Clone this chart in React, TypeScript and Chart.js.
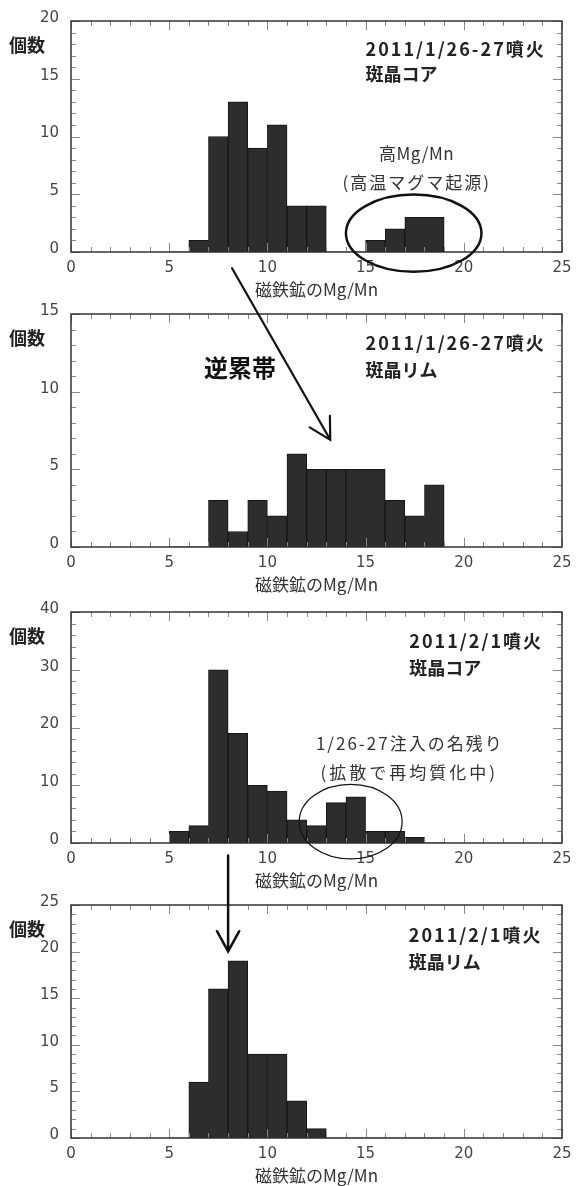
import React, { useEffect, useRef } from 'react';
import { Chart, registerables } from 'chart.js';

Chart.register(...registerables);

// ---- data ----
const binStarts = [5, 6, 7, 8, 9, 10, 11, 12, 13, 14, 15, 16, 17, 18];
const coreCounts0126 = [0, 1, 10, 13, 9, 11, 4, 4, 0, 0, 1, 2, 3, 3];
const rimCounts0126 = [0, 0, 3, 1, 3, 2, 6, 5, 5, 5, 5, 3, 2, 4];
const coreCounts0201 = [2, 3, 30, 19, 10, 9, 4, 3, 7, 8, 2, 2, 1, 0];
const rimCounts0201 = [0, 6, 16, 19, 9, 9, 4, 1, 0, 0, 0, 0, 0, 0];
const xTickValues = [0, 5, 10, 15, 20, 25];
const xTitle = '磁鉄鉱のMg/Mn';
const yTitle = '個数';

const JP = "'Noto Sans CJK JP', 'Noto Sans', sans-serif";
const NUM = "'DejaVu Sans', sans-serif";

type Txt = { text: string; x: number; y: number; align: CanvasTextAlign; font: string; ls: number; color: string };
type Ell = { cx: number; cy: number; rx: number; ry: number; width: number };
type Arr = { x0: number; y0: number; x1: number; y1: number; head: number; width: number };

const headFont = `bold 18px ${JP}`;
const noteFont = `17px ${JP}`;

const panels = [
  {
    counts: coreCounts0126, top: 19, plotH: 233, padTop: 19, yMax: 20, yStep: 5, yMinor: 1,
    texts: [
      { text: '2011/1/26-27噴火', x: 15.0, y: 17.53, align: 'left', font: headFont, ls: 2, color: '#222' },
      { text: '斑晶コア', x: 15.0, y: 15.38, align: 'left', font: headFont, ls: 0, color: '#222' },
      { text: '高Mg/Mn', x: 17.6, y: 8.56, align: 'center', font: noteFont, ls: 0.5, color: '#333' },
      { text: '(高温マグマ起源)', x: 17.6, y: 5.98, align: 'center', font: noteFont, ls: 2, color: '#333' },
    ] as Txt[],
    ellipses: [{ cx: 17.45, cy: 1.63, rx: 3.45, ry: 3.35, width: 2.5 }] as Ell[],
    arrows: [] as Arr[],
  },
  {
    counts: rimCounts0126, top: 314, plotH: 233, padTop: 64, yMax: 15, yStep: 5, yMinor: 1,
    texts: [
      { text: '2011/1/26-27噴火', x: 15.0, y: 13.14, align: 'left', font: headFont, ls: 2, color: '#222' },
      { text: '斑晶リム', x: 15.0, y: 11.4, align: 'left', font: headFont, ls: 0, color: '#222' },
      { text: '逆累帯', x: 8.6, y: 11.53, align: 'center', font: `bold 24px ${JP}`, ls: 0, color: '#111' },
    ] as Txt[],
    ellipses: [] as Ell[],
    arrows: [{ x0: 8.2, y0: 17.95, x1: 13.2, y1: 6.9, head: 24, width: 2.2 }] as Arr[],
  },
  {
    counts: coreCounts0201, top: 610, plotH: 233, padTop: 19, yMax: 40, yStep: 10, yMinor: 2,
    texts: [
      { text: '2011/2/1噴火', x: 17.23, y: 35.0, align: 'left', font: headFont, ls: 2, color: '#222' },
      { text: '斑晶コア', x: 17.23, y: 30.2, align: 'left', font: headFont, ls: 0, color: '#222' },
      { text: '1/26-27注入の名残り', x: 17.25, y: 17.2, align: 'center', font: noteFont, ls: 2, color: '#333' },
      { text: '(拡散で再均質化中)', x: 17.23, y: 12.2, align: 'center', font: noteFont, ls: 3, color: '#333' },
    ] as Txt[],
    ellipses: [{ cx: 14.24, cy: 3.7, rx: 2.62, ry: 6.46, width: 1.2 }] as Ell[],
    arrows: [] as Arr[],
  },
  {
    counts: rimCounts0201, top: 905, plotH: 233, padTop: 60, yMax: 25, yStep: 5, yMinor: 1,
    texts: [
      { text: '2011/2/1噴火', x: 17.2, y: 21.8, align: 'left', font: headFont, ls: 2, color: '#222' },
      { text: '斑晶リム', x: 17.2, y: 18.9, align: 'left', font: headFont, ls: 0, color: '#222' },
    ] as Txt[],
    ellipses: [] as Ell[],
    arrows: [{ x0: 8.0, y0: 30.3, x1: 8.0, y1: 20.03, head: 23, width: 2.5 }] as Arr[],
  },
];

const X_AXIS_H = 48;

function makeDecor(p: typeof panels[number]) {
  return {
    id: 'decor',
    afterDraw(chart: any) {
      const { ctx, chartArea: a } = chart;
      const xs = chart.scales.x;
      const ys = chart.scales.y;
      ctx.save();
      // inward ticks
      ctx.strokeStyle = '#888';
      ctx.lineWidth = 1;
      ctx.beginPath();
      for (let v = 0; v <= 25; v += 1) {
        const px = Math.round(xs.getPixelForValue(v)) + 0.5;
        const len = v % 5 === 0 ? 9 : 5;
        ctx.moveTo(px, a.bottom); ctx.lineTo(px, a.bottom - len);
        ctx.moveTo(px, a.top); ctx.lineTo(px, a.top + len);
      }
      for (let v = 0; v <= p.yMax; v += p.yMinor) {
        const py = Math.round(ys.getPixelForValue(v)) + 0.5;
        const len = v % 5 === 0 ? 9 : 5;
        ctx.moveTo(a.left, py); ctx.lineTo(a.left + len, py);
        ctx.moveTo(a.right, py); ctx.lineTo(a.right - len, py);
      }
      ctx.stroke();
      // frame
      ctx.strokeStyle = '#333';
      ctx.lineWidth = 1.5;
      ctx.strokeRect(a.left, a.top, a.right - a.left, a.bottom - a.top);
      // y label
      ctx.fillStyle = '#222';
      ctx.font = `bold 18px ${JP}`;
      ctx.textAlign = 'center';
      ctx.textBaseline = 'middle';
      ctx.fillText(yTitle, a.left - 44, a.top + 24);
      // texts
      for (const t of p.texts) {
        ctx.font = t.font;
        ctx.fillStyle = t.color;
        ctx.textAlign = t.align;
        ctx.textBaseline = 'middle';
        (ctx as any).letterSpacing = `${t.ls}px`;
        ctx.fillText(t.text, xs.getPixelForValue(t.x), ys.getPixelForValue(t.y));
      }
      (ctx as any).letterSpacing = '0px';
      // ellipses
      for (const e of p.ellipses) {
        const cx = xs.getPixelForValue(e.cx);
        const cy = ys.getPixelForValue(e.cy);
        const rx = Math.abs(xs.getPixelForValue(e.cx + e.rx) - cx);
        const ry = Math.abs(ys.getPixelForValue(e.cy + e.ry) - cy);
        ctx.beginPath();
        ctx.ellipse(cx, cy, rx, ry, 0, 0, Math.PI * 2);
        ctx.strokeStyle = '#111';
        ctx.lineWidth = e.width;
        ctx.stroke();
      }
      // arrows
      for (const r of p.arrows) {
        const x0 = xs.getPixelForValue(r.x0), y0 = ys.getPixelForValue(r.y0);
        const x1 = xs.getPixelForValue(r.x1), y1 = ys.getPixelForValue(r.y1);
        const ang = Math.atan2(y0 - y1, x0 - x1);
        const spread = (29 * Math.PI) / 180;
        ctx.strokeStyle = '#111';
        ctx.lineWidth = r.width;
        ctx.lineCap = 'round';
        ctx.beginPath();
        ctx.moveTo(x0, y0); ctx.lineTo(x1, y1);
        ctx.moveTo(x1 + r.head * Math.cos(ang + spread), y1 + r.head * Math.sin(ang + spread));
        ctx.lineTo(x1, y1);
        ctx.lineTo(x1 + r.head * Math.cos(ang - spread), y1 + r.head * Math.sin(ang - spread));
        ctx.stroke();
      }
      ctx.restore();
    },
  };
}

function Panel({ p }: { p: typeof panels[number] }) {
  const ref = useRef<HTMLCanvasElement | null>(null);
  const height = p.padTop + p.plotH + X_AXIS_H;
  useEffect(() => {
    if (!ref.current) return;
    const chart = new Chart(ref.current, {
      type: 'bar',
      data: {
        datasets: [
          {
            data: binStarts.map((b, i) => ({ x: b + 0.5, y: p.counts[i] })),
            backgroundColor: '#2d2d2d',
            borderColor: '#151515',
            borderWidth: (c: any) => (c.raw && c.raw.y > 0 ? 1 : 0),
            borderSkipped: false,
            barPercentage: 1,
            categoryPercentage: 1,
          } as any,
        ],
      },
      options: {
        responsive: false,
        animation: false,
        devicePixelRatio: 1,
        layout: { padding: { top: p.padTop, left: 0, right: 11, bottom: 0 } },
        plugins: { legend: { display: false }, tooltip: { enabled: false }, title: { display: false } },
        scales: {
          x: {
            type: 'linear',
            min: 0,
            max: 25,
            offset: false,
            grid: { display: false, drawTicks: false },
            border: { display: false },
            afterBuildTicks: (s: any) => { s.ticks = xTickValues.map((v) => ({ value: v })); },
            ticks: { padding: 7.5, font: { family: NUM, size: 15 }, color: '#444', maxRotation: 0, autoSkip: false },
            title: { display: true, text: xTitle, font: { family: JP, size: 17 }, color: '#333', padding: 0 },
            afterFit: (s: any) => { s.height = X_AXIS_H; },
          },
          y: {
            type: 'linear',
            min: 0,
            max: p.yMax,
            grid: { display: false, drawTicks: false },
            border: { display: false },
            ticks: { stepSize: p.yStep, padding: 12, labelOffset: -3, font: { family: NUM, size: 15 }, color: '#444' },
            afterFit: (s: any) => { s.width = 71; },
          },
        },
      } as any,
      plugins: [makeDecor(p)],
    });
    return () => chart.destroy();
  }, []);
  return (
    <canvas
      ref={ref}
      width={579}
      height={height}
      style={{ position: 'absolute', left: 0, top: p.top - p.padTop, width: 579, height }}
    />
  );
}

export default function App() {
  return (
    <div style={{ position: 'absolute', left: 0, top: 0, width: 579, height: 1186, background: '#fff', overflow: 'hidden' }}>
      {panels.map((p, i) => (
        <Panel key={i} p={p} />
      ))}
    </div>
  );
}
